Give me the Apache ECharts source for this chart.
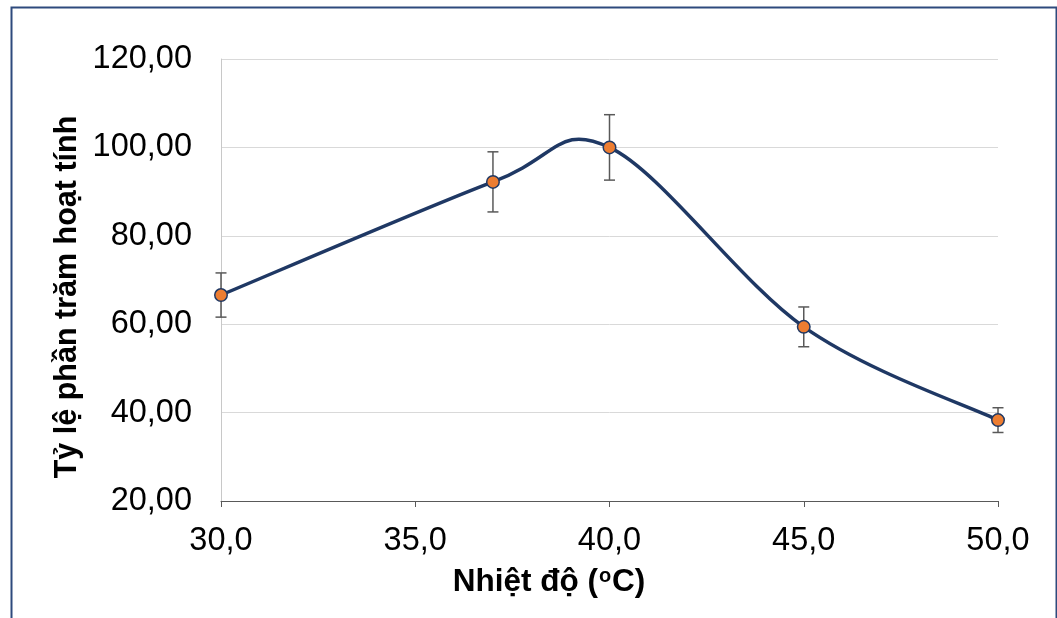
<!DOCTYPE html>
<html>
<head>
<meta charset="utf-8">
<script src="https://cdn.jsdelivr.net/npm/echarts@6/dist/echarts.min.js"></script>
<style>
html,body{margin:0;padding:0;background:#fff;}
#chart{width:1057px;height:618px;}
</style>
</head>
<body>
<div id="chart"></div>
<script>
// Data
const temperatures = [30, 37, 40, 45, 50];
const activity = [66.6, 92.2, 100.0, 59.4, 38.3];
const errors = [5.0, 6.8, 7.4, 4.5, 2.8];
const yTicks = [20, 40, 60, 80, 100, 120];
const xTicks = [30, 35, 40, 45, 50];

const chart = echarts.init(document.getElementById('chart'));
const FONT = '"Liberation Sans", Arial, sans-serif';

const points = temperatures.map((t, i) => [t, activity[i]]);
const errData = temperatures.map((t, i) => [t, activity[i] - errors[i], activity[i] + errors[i]]);

function renderCurve(params, api) {
  if (params.dataIndex !== 0) return null;
  const P = points.map(p => api.coord(p));
  const n = P.length;
  let d = 'M' + P[0][0] + ' ' + P[0][1];
  for (let i = 0; i < n - 1; i++) {
    const p0 = P[Math.max(i - 1, 0)], p1 = P[i], p2 = P[i + 1], p3 = P[Math.min(i + 2, n - 1)];
    const c1 = [p1[0] + (p2[0] - p0[0]) / 6, p1[1] + (p2[1] - p0[1]) / 6];
    const c2 = [p2[0] - (p3[0] - p1[0]) / 6, p2[1] - (p3[1] - p1[1]) / 6];
    d += ' C' + c1[0] + ' ' + c1[1] + ' ' + c2[0] + ' ' + c2[1] + ' ' + p2[0] + ' ' + p2[1];
  }
  return {
    type: 'path',
    shape: { pathData: d },
    style: { stroke: '#1F3864', lineWidth: 3.5, fill: null }
  };
}

function renderErr(params, api) {
  const x = api.value(0);
  const lo = api.coord([x, api.value(1)]);
  const hi = api.coord([x, api.value(2)]);
  const w = 5.5;
  const st = { stroke: '#595959', lineWidth: 1.5 };
  return {
    type: 'group',
    children: [
      { type: 'line', shape: { x1: lo[0], y1: lo[1], x2: hi[0], y2: hi[1] }, style: st },
      { type: 'line', shape: { x1: lo[0] - w, y1: lo[1], x2: lo[0] + w, y2: lo[1] }, style: st },
      { type: 'line', shape: { x1: hi[0] - w, y1: hi[1], x2: hi[0] + w, y2: hi[1] }, style: st }
    ]
  };
}

chart.setOption({
  animation: false,
  backgroundColor: '#fff',
  grid: { left: 221, right: 59, top: 59, bottom: 117 },
  xAxis: {
    type: 'value', min: 30, max: 50, interval: 5,
    axisLine: { lineStyle: { color: '#595959', width: 1 } },
    axisTick: { show: true, length: 6, lineStyle: { color: '#595959' } },
    splitLine: { show: false },
    axisLabel: {
      margin: 24, color: '#000', fontSize: 32.5, fontFamily: FONT,
      formatter: v => v.toFixed(1).replace('.', ',')
    }
  },
  yAxis: {
    type: 'value', min: 20, max: 120, interval: 20,
    axisLine: { show: true, lineStyle: { color: '#c8c8c8', width: 1 } },
    axisTick: { show: false },
    splitLine: { lineStyle: { color: '#d9d9d9', width: 1 } },
    axisLabel: {
      margin: 29, color: '#000', fontSize: 32.5, fontFamily: FONT,
      formatter: v => v.toFixed(2).replace('.', ',')
    }
  },
  graphic: [
    {
      type: 'rect', left: 9, top: 5, silent: true,
      shape: { x: 0, y: 0, width: 1045, height: 700 },
      style: { fill: null, stroke: '#2E4A7D', lineWidth: 2 }
    },
    {
      type: 'text', x: 549, y: 582,
      style: {
        text: '{a|Nhiệt độ (}{s|o}{a|C)}',
        rich: {
          a: { fontSize: 31.5, fontWeight: 'bold', fontFamily: FONT, fill: '#000' },
          s: { fontSize: 20, fontWeight: 'bold', fontFamily: FONT, fill: '#000', padding: [0, 1, 11, 1] }
        },
        align: 'center', verticalAlign: 'middle'
      }
    },
    {
      type: 'text', x: 68, y: 297, rotation: Math.PI / 2,
      style: {
        text: 'Tỷ lệ phần trăm hoạt tính',
        fontSize: 30.5, fontWeight: 'bold', fontFamily: FONT, fill: '#000',
        align: 'center', verticalAlign: 'middle'
      }
    }
  ],
  series: [
    {
      type: 'custom', renderItem: renderCurve, data: [[0]], z: 2, silent: true,
      encode: { x: -1, y: -1 }
    },
    {
      type: 'custom', renderItem: renderErr, data: errData, z: 3, silent: true,
      encode: { x: 0, y: [1, 2] }
    },
    {
      type: 'scatter', data: points, symbolSize: 12.5, z: 4,
      itemStyle: { color: '#ED7D31', borderColor: '#1F3864', borderWidth: 1.5, opacity: 1 }
    }
  ]
});
</script>
</body>
</html>
